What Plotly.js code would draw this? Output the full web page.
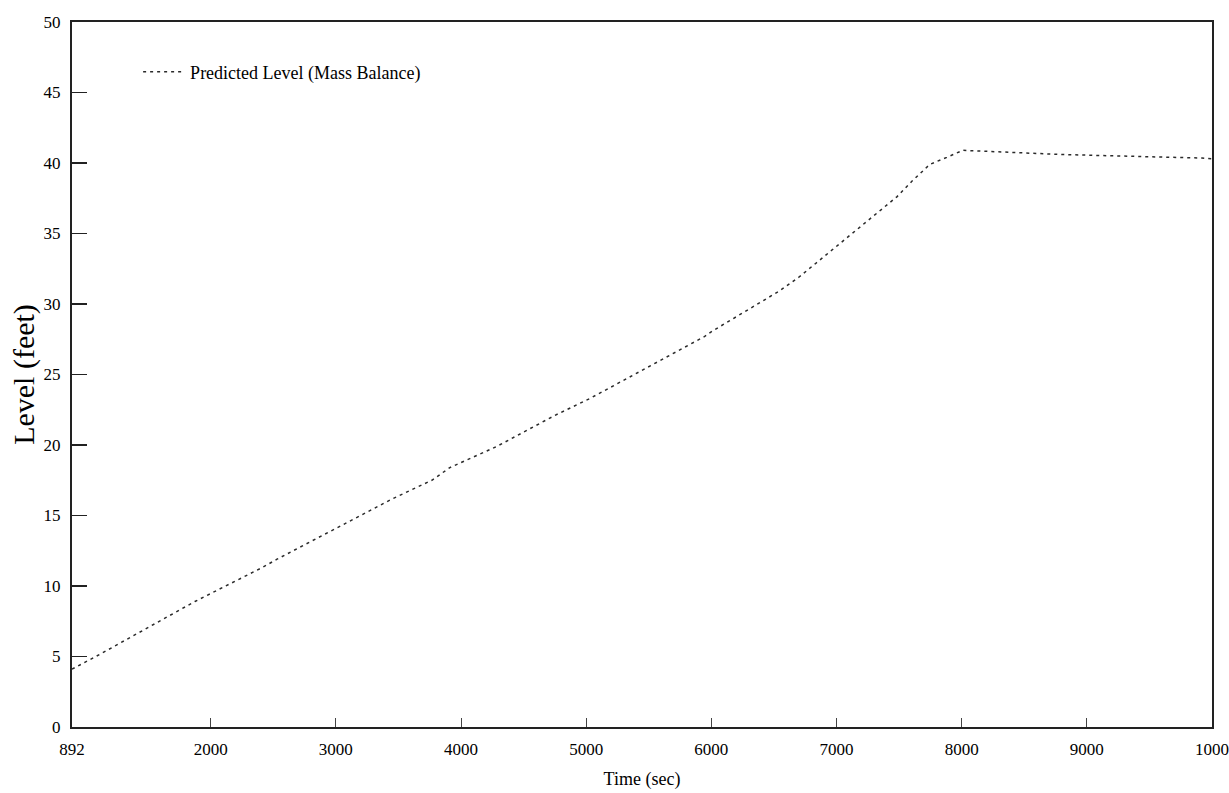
<!DOCTYPE html>
<html>
<head>
<meta charset="utf-8">
<script src="https://cdn.plot.ly/plotly-3.0.1.min.js"></script>
<style>html,body{margin:0;padding:0;background:#fff;}#chart{width:1229px;height:793px;}</style>
</head>
<body>
<div id="chart"></div>
<script>
// Data
var timeSec = [892, 1124, 1874, 2098, 2410, 2530, 2937, 3456, 3767, 3911, 4286, 4494, 4750, 5030, 5135, 5947, 6012, 6539, 6699, 7482, 7602, 7745, 7881, 8009, 8803, 9329, 9920, 10000];
var levelFeet = [4.1, 5.2, 8.9, 9.9, 11.3, 11.9, 13.8, 16.2, 17.5, 18.4, 19.9, 20.9, 22.1, 23.3, 23.8, 27.7, 28.1, 30.9, 31.9, 37.6, 38.7, 39.9, 40.4, 40.9, 40.6, 40.5, 40.35, 40.3];
var seriesName = "Predicted Level (Mass Balance)";
var xTickVals = [892, 2000, 3000, 4000, 5000, 6000, 7000, 8000, 9000, 10000];
// last label reads "1000" in the reference (the page edge cuts it)
var xTickText = ["892", "2000", "3000", "4000", "5000", "6000", "7000", "8000", "9000", "1000"];
var yTickVals = [0, 5, 10, 15, 20, 25, 30, 35, 40, 45, 50];

var serif = "Liberation Serif, Times New Roman, serif";

var trace = {
  x: timeSec,
  y: levelFeet,
  type: "scatter",
  mode: "lines",
  name: seriesName,
  line: {color: "#2a2a2a", width: 1.5, dash: "3px,4px"}
};

var layout = {
  width: 1229,
  height: 793,
  margin: {l: 72, r: 17, t: 22, b: 66, pad: 0},
  paper_bgcolor: "#fff",
  plot_bgcolor: "#fff",
  font: {family: serif, color: "#000", size: 17},
  showlegend: true,
  legend: {
    x: 0.058, y: 0.929, xanchor: "left", yanchor: "middle",
    itemwidth: 42,
    bgcolor: "rgba(0,0,0,0)",
    font: {family: serif, size: 18, color: "#000"}
  },
  xaxis: {
    range: [892, 10000],
    tickmode: "array",
    tickvals: xTickVals,
    ticktext: xTickText,
    ticks: "inside",
    ticklen: 9,
    tickwidth: 1,
    tickcolor: "#444",
    showline: true,
    linecolor: "#222",
    linewidth: 2,
    mirror: true,
    showgrid: false,
    zeroline: false,
    ticklabelstandoff: 6,
    ticklabeloverflow: "allow",
    tickfont: {family: serif, size: 17, color: "#000"},
    title: {text: "Time (sec)", font: {family: serif, size: 18, color: "#000"}, standoff: 14}
  },
  yaxis: {
    range: [0, 50],
    tickmode: "array",
    tickvals: yTickVals,
    ticks: "inside",
    ticklen: 15,
    tickwidth: 1.5,
    tickcolor: "#222",
    showline: true,
    linecolor: "#222",
    linewidth: 2,
    mirror: true,
    showgrid: false,
    zeroline: false,
    ticklabelstandoff: 6,
    tickfont: {family: serif, size: 17, color: "#000"},
    title: {text: "Level (feet)", font: {family: serif, size: 30, color: "#000"}, standoff: 0}
  }
};

Plotly.newPlot("chart", [trace], layout, {displayModeBar: false, staticPlot: true});
</script>
</body>
</html>
